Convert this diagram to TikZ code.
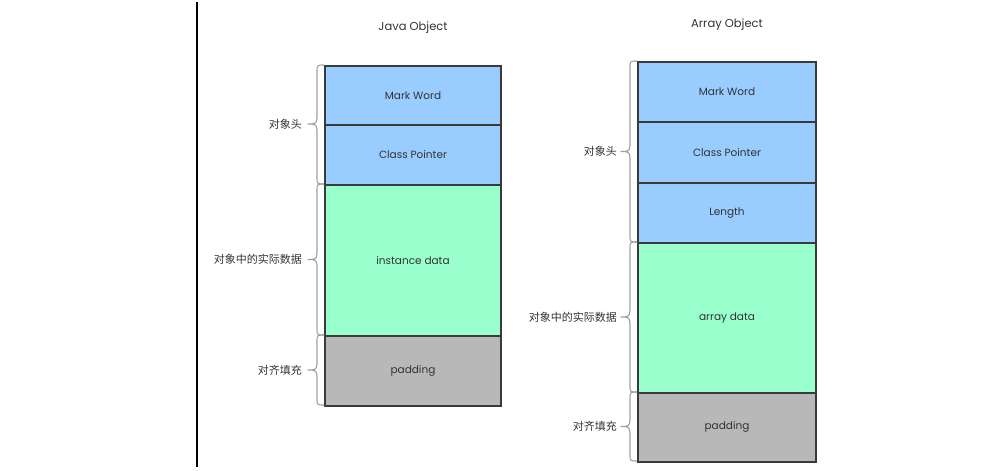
\documentclass[tikz,border=0pt]{standalone}
\usepackage{fontspec}
\setmainfont{Poppins}
\newfontfamily\cjk{Noto Sans CJK SC}
\definecolor{hdrblue}{HTML}{99CCFF}
\definecolor{datagreen}{HTML}{99FFCC}
\definecolor{padgray}{HTML}{B8B8B8}
\definecolor{edgegray}{HTML}{3A3A3A}
\definecolor{txtgray}{HTML}{333333}
\definecolor{bracegray}{HTML}{A0A0A0}
\tikzset{
  cell/.style={draw=edgegray, line width=1.5pt, inner sep=0pt, anchor=north,
    font=\fontsize{10.5}{12}\selectfont, text=txtgray},
  hdrcell/.style={cell, fill=hdrblue},
  datacell/.style={cell, fill=datagreen},
  padcell/.style={cell, fill=padgray},
  sidelabel/.style={anchor=east, inner sep=0pt, font=\cjk\fontsize{11}{13}\selectfont, text=txtgray},
  titlelabel/.style={inner sep=0pt, font=\fontsize{11.5}{13}\selectfont, text=txtgray},
  bracel/.style={draw=bracegray, line width=1.1pt, line join=round}
}
\newcommand\objbrace[4]{%
  \draw[bracel] (#1,#2) .. controls (#1-7,#2) .. (#1-7,#2+7) -- (#1-7,#3-6)
    .. controls (#1-7,#3) and (#1-10,#3) .. (#1-16,#3)
    .. controls (#1-10,#3) and (#1-7,#3) .. (#1-7,#3+6) -- (#1-7,#4-7)
    .. controls (#1-7,#4) .. (#1,#4);}
\begin{document}
\begin{tikzpicture}[x=1pt,y=-1pt]
\useasboundingbox (0,0) rectangle (996,471);
\draw[line width=1.3pt] (197,2) -- (197,467);
% Java object
\node[titlelabel] (jt) at (413,28) {Java Object};
\node[hdrcell, minimum width=176pt, minimum height=59pt] (jmw) at (413,65) {Mark Word};
\node[hdrcell, minimum width=176pt, minimum height=60pt] (jcp) at (413,124) {Class Pointer};
\node[datacell, minimum width=176pt, minimum height=151pt] (jid) at (413,184) {instance data};
\node[padcell, minimum width=176pt, minimum height=70pt] (jpd) at (413,335) {padding};
\objbrace{324}{65}{124}{184}
\objbrace{324}{184}{259.5}{335}
\objbrace{324}{335}{370}{405}
\node[sidelabel] (jl1) at (302,124) {对象头};
\node[sidelabel] (jl2) at (302,259) {对象中的实际数据};
\node[sidelabel] (jl3) at (302,370) {对齐填充};
% Array object
\node[titlelabel] (at) at (727,25) {Array Object};
\node[hdrcell, minimum width=178pt, minimum height=60pt] (amw) at (727,61) {Mark Word};
\node[hdrcell, minimum width=178pt, minimum height=61pt] (acp) at (727,121) {Class Pointer};
\node[hdrcell, minimum width=178pt, minimum height=60pt] (aln) at (727,182) {Length};
\node[datacell, minimum width=178pt, minimum height=150pt] (aad) at (727,242) {array data};
\node[padcell, minimum width=178pt, minimum height=69pt] (apd) at (727,392) {padding};
\objbrace{637}{61}{151.5}{242}
\objbrace{637}{242}{317}{392}
\objbrace{637}{392}{426.5}{461}
\node[sidelabel] (al1) at (617,151) {对象头};
\node[sidelabel] (al2) at (617,317) {对象中的实际数据};
\node[sidelabel] (al3) at (617,426) {对齐填充};
\end{tikzpicture}
\end{document}
